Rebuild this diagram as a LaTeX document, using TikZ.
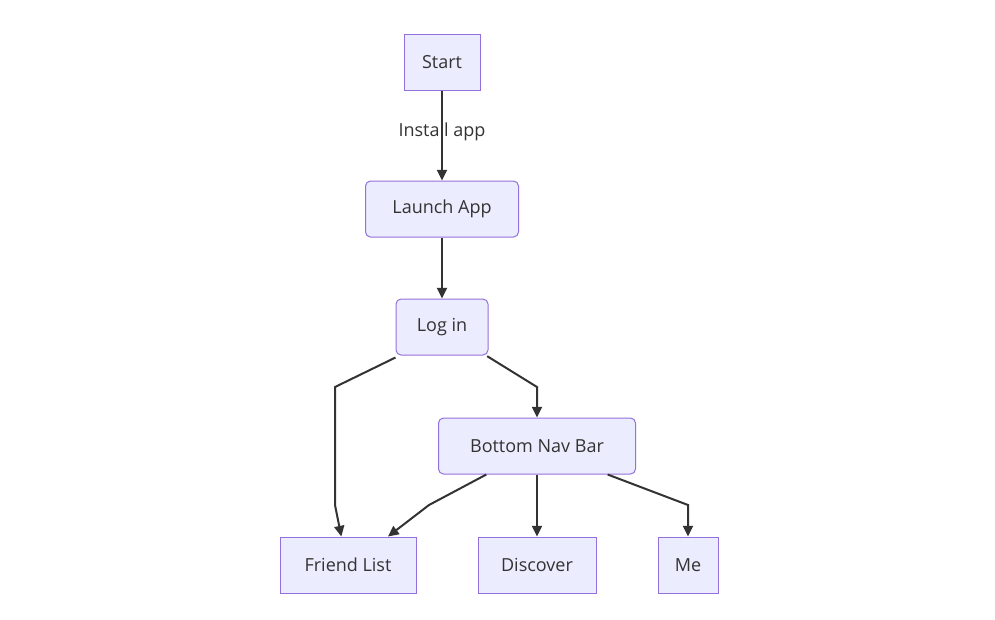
\documentclass[tikz,border=0pt]{standalone}
\usepackage{fontspec}
\setmainfont{Open Sans}
\usepackage{tikz}
\usetikzlibrary{arrows.meta}
\definecolor{boxfill}{HTML}{ECECFF}
\definecolor{boxline}{HTML}{9370DB}
\definecolor{edgeline}{HTML}{333333}

\begin{document}
\begin{tikzpicture}[x=0.75pt,y=-0.75pt,
	box/.style={draw=boxline, fill=boxfill, line width=0.75pt, minimum height=42pt, inner sep=0pt, text=edgeline, font=\fontsize{13.5}{15}\selectfont},
	roundbox/.style={box, rounded corners=3.75pt},
	arr/.style={draw=edgeline, line width=1.5pt, -{Triangle[length=8pt,width=7.5pt]}}]

	\useasboundingbox (0,0) rectangle (995,619);

	\node[box, minimum width=57pt] (start) at (442,62) {Start};
	\node[roundbox, minimum width=114.75pt] (launch) at (442,209) {Launch App};
	\node[roundbox, minimum width=69pt] (login) at (442,327) {Log in};
	\node[roundbox, minimum width=147.75pt] (navbar) at (537,446) {Bottom Nav Bar};
	\node[box, minimum width=102pt] (friends) at (348,565) {Friend List};
	\node[box, minimum width=88.5pt] (discover) at (537,565) {Discover};
	\node[box, minimum width=45pt] (me) at (688,565) {Me};

	\draw[arr] (start) -- (launch);
	\node[text=edgeline, font=\fontsize{13.5}{15}\selectfont] (install) at (442,132) {Install app};
	\draw[arr] (launch) -- (login);

	\draw[arr] ([yshift=-1.5pt]login.south west) -- (335,387) -- (335,505) -- ([xshift=-5pt]friends.north);
	\draw[arr] ([xshift=-1pt,yshift=-0.5pt]login.south east) -- (537,387) -- (navbar.north);

	\draw[arr] ([xshift=-38pt]navbar.south) -- (429,505) -- ([xshift=30pt]friends.north);
	\draw[arr] (navbar) -- (discover);
	\draw[arr] ([xshift=53pt]navbar.south) -- (688,505) -- (me.north);

\end{tikzpicture}
\end{document}
